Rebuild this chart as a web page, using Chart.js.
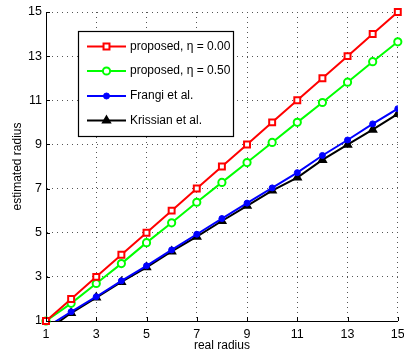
<!DOCTYPE html>
<html>
<head>
<meta charset="utf-8">
<script src="https://cdn.jsdelivr.net/npm/chart.js@4"></script>
<style>
  html, body { margin: 0; padding: 0; background: #fff; }
  #wrap { width: 404px; height: 356px; }
</style>
</head>
<body>
<div id="wrap"><canvas id="myChart" width="404" height="356"></canvas></div>
<script>
// data
var realRadius = [1, 2, 3, 4, 5, 6, 7, 8, 9, 10, 11, 12, 13, 14, 15];
var proposed000 = [1, 2, 3, 4, 5, 6, 7, 8, 9, 10, 11, 12, 13, 14, 15];
var proposed050 = [1, 1.8, 2.7, 3.6, 4.55, 5.45, 6.38, 7.28, 8.18, 9.09, 10.0, 10.9, 11.82, 12.75, 13.65];
var frangi = [0.7, 1.42, 2.1, 2.82, 3.5, 4.22, 4.93, 5.64, 6.34, 7.03, 7.72, 8.5, 9.2, 9.93, 10.62];
var krissian = [0.55, 1.36, 2.06, 2.77, 3.43, 4.15, 4.82, 5.53, 6.22, 6.91, 7.5, 8.3, 8.99, 9.67, 10.38];
var tickValues = [1, 3, 5, 7, 9, 11, 13, 15];
var seriesNames = ["proposed, \u03b7 = 0.00", "proposed, \u03b7 = 0.50", "Frangi et al.", "Krissian et al."];

var FONT = "'Liberation Sans', Arial, Helvetica, sans-serif";

function pts(ys) {
  return realRadius.map(function (x, i) { return { x: x, y: ys[i] }; });
}

// matlab style ticks pointing inside
var innerTicks = {
  id: "innerTicks",
  afterDatasetsDraw: function (chart) {
    var ctx = chart.ctx, a = chart.chartArea;
    var xs = chart.scales.x, ys = chart.scales.y;
    ctx.save();
    ctx.strokeStyle = "#000";
    ctx.lineWidth = 1;
    ctx.beginPath();
    tickValues.forEach(function (v) {
      var px = Math.round(xs.getPixelForValue(v)) + 0.5;
      ctx.moveTo(px, a.bottom);
      ctx.lineTo(px, a.bottom - 4);
      var py = Math.round(ys.getPixelForValue(v)) + 0.5;
      ctx.moveTo(a.left, py);
      ctx.lineTo(a.left + 4, py);
    });
    ctx.stroke();
    ctx.restore();
  }
};

// boxed legend inside the axes
var boxLegend = {
  id: "boxLegend",
  afterDraw: function (chart) {
    var ctx = chart.ctx;
    var bx = 78.5, by = 31.5, bw = 155, bh = 105;
    ctx.save();
    ctx.fillStyle = "#fff";
    ctx.fillRect(bx, by, bw, bh);
    ctx.strokeStyle = "#000";
    ctx.lineWidth = 1.2;
    ctx.strokeRect(bx, by, bw, bh);
    var rows = [46.5, 71, 96, 120.5];
    chart.data.datasets.forEach(function (ds, i) {
      var y = rows[i];
      ctx.strokeStyle = ds.borderColor;
      ctx.lineWidth = ds.borderWidth;
      ctx.beginPath();
      ctx.moveTo(87, y);
      ctx.lineTo(126, y);
      ctx.stroke();
      ctx.fillStyle = ds.pointBackgroundColor;
      ctx.strokeStyle = ds.borderColor;
      ctx.lineWidth = ds.pointBorderWidth;
      Chart.helpers.drawPoint(ctx, { pointStyle: ds.pointStyle, radius: ds.pointRadius, rotation: 0, borderWidth: ds.pointBorderWidth }, 106.5, y);
      ctx.fillStyle = "#000";
      ctx.font = "12px " + FONT;
      ctx.textBaseline = "middle";
      ctx.textAlign = "left";
      ctx.fillText(ds.label, 130, y);
    });
    ctx.restore();
  }
};

new Chart("myChart", {
  type: "line",
  data: {
    datasets: [
      {
        label: seriesNames[0],
        data: pts(proposed000),
        borderColor: "#ff0000",
        borderWidth: 2,
        pointStyle: "rect",
        pointRadius: 4.2,
        pointBorderWidth: 2,
        pointBackgroundColor: "#fff",
        pointBorderColor: "#ff0000",
        clip: 8
      },
      {
        label: seriesNames[1],
        data: pts(proposed050),
        borderColor: "#00ff00",
        borderWidth: 2,
        pointStyle: "circle",
        pointRadius: 3.6,
        pointBorderWidth: 2,
        pointBackgroundColor: "#fff",
        pointBorderColor: "#00ff00",
        clip: 8
      },
      {
        label: seriesNames[2],
        data: pts(frangi),
        borderColor: "#0000ff",
        borderWidth: 2,
        pointStyle: "circle",
        pointRadius: 3,
        pointBorderWidth: 1,
        pointBackgroundColor: "#0000ff",
        pointBorderColor: "#0000ff",
        clip: 0
      },
      {
        label: seriesNames[3],
        data: pts(krissian),
        borderColor: "#000000",
        borderWidth: 2,
        pointStyle: "triangle",
        pointRadius: 4.5,
        pointBorderWidth: 1.5,
        pointBackgroundColor: "#000",
        pointBorderColor: "#000",
        clip: 0
      }
    ]
  },
  options: {
    responsive: false,
    animation: false,
    layout: { padding: { top: 12, right: 0, bottom: 0, left: 0 } },
    plugins: {
      legend: { display: false },
      tooltip: { enabled: false }
    },
    scales: {
      x: {
        type: "linear",
        min: 1,
        max: 15,
        afterBuildTicks: function (s) { s.ticks = tickValues.map(function (v) { return { value: v }; }); },
        afterFit: function (s) { s.height = 35; s.paddingRight = 6; s.paddingLeft = 0; },
        grid: { color: "#555", lineWidth: 1, drawTicks: false },
        border: { display: true, color: "#000", width: 1, dash: [1, 4] },
        ticks: { color: "#000", padding: 6, maxRotation: 0, font: { family: FONT, size: 12.5 } },
        title: { display: true, text: "real radius", color: "#000", padding: { top: 0, bottom: 3 }, font: { family: FONT, size: 12 } }
      },
      y: {
        type: "linear",
        min: 1,
        max: 15,
        afterBuildTicks: function (s) { s.ticks = tickValues.map(function (v) { return { value: v }; }); },
        afterFit: function (s) { s.width = 46; },
        grid: { color: "#555", lineWidth: 1, drawTicks: false },
        border: { display: true, color: "#000", width: 1, dash: [1, 4] },
        ticks: { color: "#000", padding: 4, font: { family: FONT, size: 12.5 } },
        title: { display: true, text: "estimated radius", color: "#000", padding: { top: 10, bottom: 0 }, font: { family: FONT, size: 12 } }
      }
    }
  },
  plugins: [innerTicks, boxLegend]
});
</script>
</body>
</html>
